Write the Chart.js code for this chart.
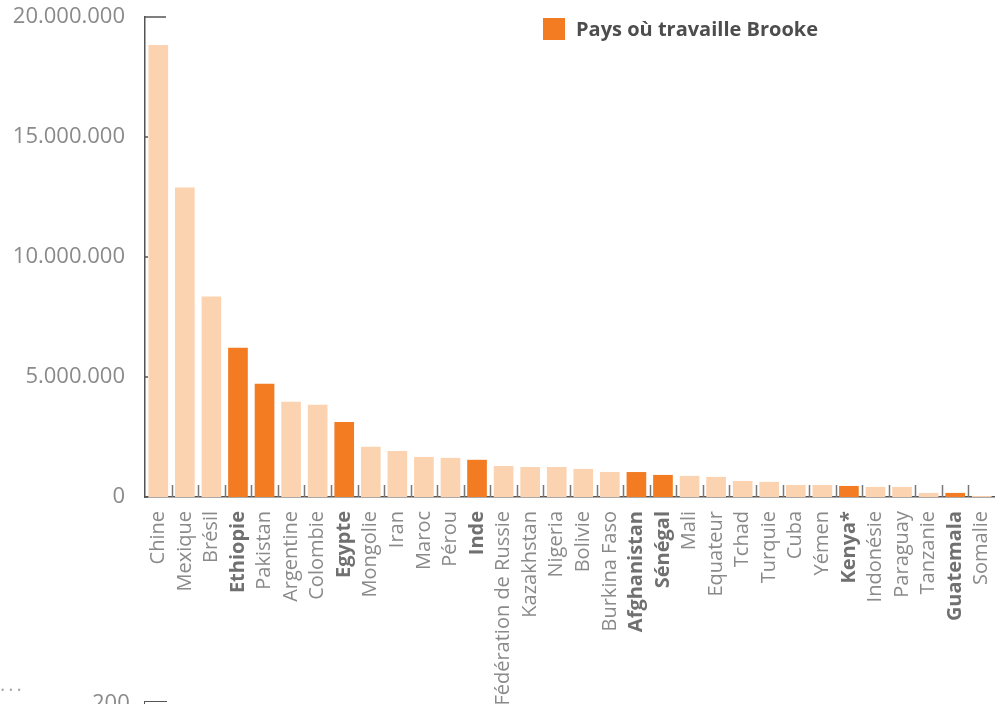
<!DOCTYPE html>
<html>
<head>
<meta charset="utf-8">
<script src="https://cdn.jsdelivr.net/npm/chart.js@4.4.1/dist/chart.umd.min.js"></script>
<style>
  html, body { margin: 0; padding: 0; background: #fff; overflow: hidden; }
  #wrap { position: relative; width: 995px; height: 704px; font-family: "Open Sans", sans-serif; }
  #legend { position: absolute; left: 543px; top: 15px; display: flex; align-items: center; color: #4d4d4d; font-weight: 700; font-size: 20px; }
  #legend .box { width: 22px; height: 22px; background: #F37B21; margin-right: 11px; }
  #dots { position: absolute; left: 0; top: 676px; color: #aaa; font-size: 20px; letter-spacing: 3px; }
  #next { position: absolute; left: 92px; top: 686px; color: #8a8a8a; font-size: 22px; }
  #nextAxis { position: absolute; left: 144px; top: 701px; width: 22px; height: 10px; border-left: 1.5px solid #555; border-top: 1.5px solid #555; }
</style>
</head>
<body>
<div id="wrap">
  <canvas id="myChart"></canvas>
  <div id="legend"><div class="box"></div><span>Pays où travaille Brooke</span></div>
  <div id="dots">···</div>
  <div id="next">200</div>
  <div id="nextAxis"></div>
</div>
<script>
const countries = ['Chine', 'Mexique', 'Brésil', 'Ethiopie', 'Pakistan', 'Argentine', 'Colombie', 'Egypte',
    'Mongolie', 'Iran', 'Maroc', 'Pérou', 'Inde', 'Fédération de Russie', 'Kazakhstan', 'Nigeria', 'Bolivie',
    'Burkina Faso', 'Afghanistan', 'Sénégal', 'Mali', 'Equateur', 'Tchad', 'Turquie', 'Cuba', 'Yémen',
    'Kenya*', 'Indonésie', 'Paraguay', 'Tanzanie', 'Guatemala', 'Somalie'];

// number of animals per country
const values = [18830000, 12900000, 8350000, 6220000, 4720000, 3970000, 3840000, 3130000,
    2090000, 1920000, 1670000, 1630000, 1550000, 1290000, 1250000, 1250000, 1170000,
    1040000, 1040000, 920000, 880000, 840000, 670000, 630000, 500000, 500000,
    460000, 420000, 420000, 170000, 170000, 40000];

// dark orange bars
const darkBars = ['Ethiopie', 'Pakistan', 'Egypte', 'Inde', 'Afghanistan', 'Sénégal', 'Kenya*', 'Guatemala'];
// bold labels: countries where Brooke works
const boldLabels = ['Ethiopie', 'Egypte', 'Inde', 'Afghanistan', 'Sénégal', 'Kenya*', 'Guatemala'];

const yTicks = [0, 5000000, 10000000, 15000000, 20000000];

const LIGHT = '#FCD3B1';
const DARK = '#F37B21';
const AXIS = '#555555';

function formatNumber(v) {
    return String(v).replace(/\B(?=(\d{3})+(?!\d))/g, '.');
}

// small tick marks drawn on the inside of both axes
const insideTicks = {
    id: 'insideTicks',
    afterDatasetsDraw(chart) {
        const { ctx, chartArea, scales } = chart;
        const x = scales.x, y = scales.y;
        ctx.save();
        ctx.strokeStyle = '#777';
        ctx.lineWidth = 1.5;
        ctx.beginPath();
        for (let i = 1; i < countries.length; i++) {
            const px = Math.round((x.getPixelForValue(i - 1) + x.getPixelForValue(i)) / 2) + 0.5;
            ctx.moveTo(px, chartArea.bottom);
            ctx.lineTo(px, chartArea.bottom - 12);
        }
        ctx.stroke();
        ctx.strokeStyle = AXIS;
        ctx.beginPath();
        yTicks.forEach(v => {
            const py = y.getPixelForValue(v);
            const len = v === 20000000 ? 21 : 3;
            ctx.moveTo(chartArea.left, py);
            ctx.lineTo(chartArea.left + len, py);
        });
        ctx.stroke();
        ctx.restore();
    }
};

const ctx = document.getElementById('myChart').getContext('2d');
new Chart(ctx, {
    type: 'bar',
    data: {
        labels: countries,
        datasets: [{
            label: 'Pays où travaille Brooke',
            data: values,
            backgroundColor: countries.map(c => darkBars.includes(c) ? DARK : LIGHT),
            borderWidth: 0,
            categoryPercentage: 1,
            barPercentage: 0.74
        }]
    },
    options: {
        responsive: true,
        maintainAspectRatio: false,
        animation: false,
        layout: { padding: { top: 17, right: 0, left: 0, bottom: 0 } },
        plugins: {
            legend: { display: false },
            tooltip: { enabled: false }
        },
        scales: {
            x: {
                grid: { display: false },
                border: { color: AXIS, width: 1.5 },
                ticks: {
                    autoSkip: false,
                    minRotation: 90,
                    maxRotation: 90,
                    padding: 6,
                    color: ctx => boldLabels.includes(countries[ctx.index]) ? '#707070' : '#8a8a8a',
                    font: ctx => ({
                        family: '"Open Sans", sans-serif',
                        size: 20,
                        weight: boldLabels.includes(countries[ctx.index]) ? 'bold' : 'normal'
                    })
                },
                afterFit(scale) {
                    scale.height = 207;
                    scale.paddingLeft = 0;
                    scale.paddingRight = 0;
                }
            },
            y: {
                min: 0,
                max: 20000000,
                grid: { display: false },
                border: { color: AXIS, width: 1.5 },
                afterBuildTicks(scale) { scale.ticks = yTicks.map(v => ({ value: v })); },
                ticks: {
                    padding: 12,
                    color: '#8a8a8a',
                    font: { family: '"Open Sans", sans-serif', size: 22 },
                    callback: v => formatNumber(v)
                },
                afterFit(scale) {
                    scale.width = 145;
                    scale.paddingTop = 0;
                    scale.paddingBottom = 0;
                }
            }
        }
    },
    plugins: [insideTicks]
});
</script>
</body>
</html>
